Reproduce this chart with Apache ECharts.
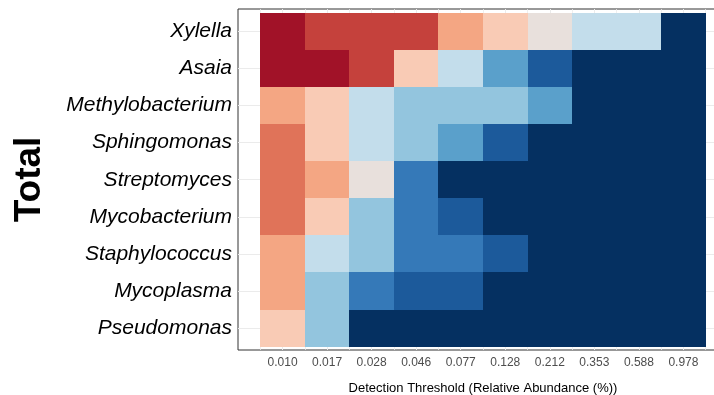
<!DOCTYPE html>
<html><head><meta charset="utf-8">
<script src="https://cdn.jsdelivr.net/npm/echarts@6/dist/echarts.min.js"></script>
<style>html,body{margin:0;padding:0;background:#fff}#c{width:714px;height:395px}</style>
</head><body><div id="c"></div>
<script>
// Row categories (top to bottom) and column categories (tick labels)
const taxa = ['Xylella','Asaia','Methylobacterium','Sphingomonas','Streptomyces','Mycobacterium','Staphylococcus','Mycoplasma','Pseudomonas'];
const thresholds = ['0.010','0.017','0.028','0.046','0.077','0.128','0.212','0.353','0.588','0.978'];

// Prevalence level per threshold (0 = lowest ... 11 = highest)
const xylella          = [11,10,10,10, 8, 7, 6, 5, 5, 0];
const asaia            = [11,11,10, 7, 5, 3, 1, 0, 0, 0];
const methylobacterium = [ 8, 7, 5, 4, 4, 4, 3, 0, 0, 0];
const sphingomonas     = [ 9, 7, 5, 4, 3, 1, 0, 0, 0, 0];
const streptomyces     = [ 9, 8, 6, 2, 0, 0, 0, 0, 0, 0];
const mycobacterium    = [ 9, 7, 4, 2, 1, 0, 0, 0, 0, 0];
const staphylococcus   = [ 8, 5, 4, 2, 2, 1, 0, 0, 0, 0];
const mycoplasma       = [ 8, 4, 2, 1, 1, 0, 0, 0, 0, 0];
const pseudomonas      = [ 7, 4, 0, 0, 0, 0, 0, 0, 0, 0];

const rows = [xylella, asaia, methylobacterium, sphingomonas, streptomyces, mycobacterium, staphylococcus, mycoplasma, pseudomonas];

const palette = ['#053061','#1c5a9b','#3579b8','#5aa0cb','#93c5de','#c3ddeb','#e8e0dc','#f9cbb5','#f4a683','#e07359','#c5413c','#a11228'];

const data = [];
rows.forEach((r, yi) => r.forEach((v, xi) => data.push([xi, yi, v])));

const font = "'Liberation Sans', Arial, sans-serif";
const chart = echarts.init(document.getElementById('c'), null, {renderer: 'canvas'});
chart.setOption({
  animation: false,
  backgroundColor: '#fff',
  grid: {left: 238, top: 9, width: 490, height: 341, outerBoundsMode: 'none', containLabel: false,
    show: true, borderColor: '#333', borderWidth: 1, backgroundColor: 'transparent'},
  xAxis: {
    type: 'value', min: -1, max: 10, interval: 1,
    name: 'Detection Threshold (Relative Abundance (%))',
    nameLocation: 'middle', nameGap: 32,
    nameTextStyle: {fontFamily: font, fontSize: 13, color: '#000'},
    axisLine: {show: false},
    axisTick: {show: true, length: 4, lineStyle: {color: '#333'}, customValues: [0,1,2,3,4,5,6,7,8,9]},
    axisLabel: {show: true, margin: 7, fontFamily: font, fontSize: 12, color: '#4d4d4d',
      customValues: [0,1,2,3,4,5,6,7,8,9],
      formatter: v => (Number.isInteger(v) && v >= 0 && v < thresholds.length) ? thresholds[v] : ''},
    splitLine: {show: true, lineStyle: {color: '#ebebeb', width: 1}},
    minorTick: {show: false, splitNumber: 2},
    minorSplitLine: {show: true, lineStyle: {color: '#ebebeb', width: 0.8}}
  },
  yAxis: {
    type: 'value', inverse: true, min: -0.6, max: 8.59, splitNumber: 9,
    name: 'Total', nameLocation: 'middle', nameGap: 190,
    nameTextStyle: {fontFamily: font, fontSize: 37, fontWeight: 'bold', color: '#000'},
    axisLine: {show: false},
    axisTick: {show: true, length: 4, lineStyle: {color: '#333'}, customValues: [0,1,2,3,4,5,6,7,8]},
    axisLabel: {show: true, margin: 6, fontFamily: font, fontSize: 21, fontStyle: 'italic', color: '#000',
      customValues: [0,1,2,3,4,5,6,7,8],
      formatter: v => (Number.isInteger(v) && v >= 0 && v < taxa.length) ? taxa[v] : ''},
    splitLine: {show: true, lineStyle: {color: '#ebebeb', width: 1}}
  },
  visualMap: {type: 'continuous', show: false, min: 0, max: 11, dimension: 2, seriesIndex: 0, inRange: {color: palette}},
  series: [{
    type: 'custom',
    data: data,
    encode: {x: 0, y: 1},
    renderItem: function (params, api) {
      const c = api.coord([api.value(0), api.value(1)]);
      const s = api.size([1, 1]);
      const x0 = Math.round(c[0] - s[0] / 2), x1 = Math.round(c[0] + s[0] / 2);
      const y0 = Math.round(c[1] - s[1] / 2), y1 = Math.round(c[1] + s[1] / 2);
      return {type: 'rect', shape: {x: x0, y: y0, width: x1 - x0, height: y1 - y0},
        style: {fill: api.visual('color')}};
    }
  }]
});
</script></body></html>
